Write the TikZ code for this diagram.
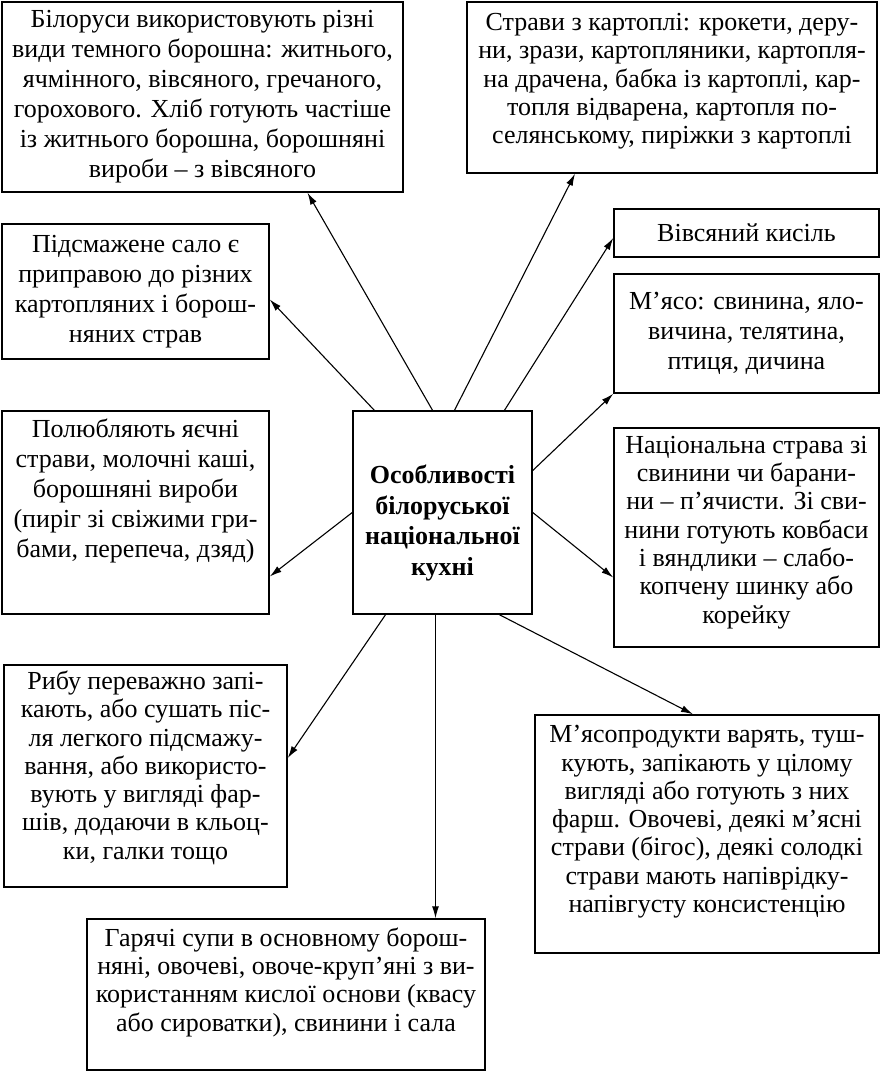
\documentclass[tikz,border=0pt]{standalone}
\usepackage{fontspec}
\setmainfont{Liberation Serif}
\usetikzlibrary{arrows.meta}

\begin{document}
\begin{tikzpicture}[
      x=1pt, y=-1pt,
      box/.style={draw, line width=1.5pt, rectangle, align=center, inner sep=3pt,
        font=\fontsize{26}{30}\selectfont},
      tight/.style={box, font=\fontsize{26}{28.3}\selectfont},
      hub/.style={box, font=\bfseries\fontsize{26}{30.5}\selectfont},
      arr/.style={line width=1.1pt, -{Latex[length=12pt, width=7pt]}},
    ]
    \useasboundingbox (0,0) rectangle (882,1074);
    \node[hub, minimum width=179pt, minimum height=203pt, text height=131pt] (hub) at (442.5,512.5)
      {Особливості\\білоруської\\національної\\кухні};
    \node[box, minimum width=401pt, minimum height=190pt] (flour) at (202.5,97)
      {Білоруси використовують різні\\види темного борошна: житнього,\\ячмінного, вівсяного, гречаного,\\горохового. Хліб готують частіше\\із житнього борошна, борошняні\\вироби -- з вівсяного};
    \node[tight, minimum width=410pt, minimum height=171pt, text depth=18pt] (potato) at (672,87.5)
      {Страви з картоплі: крокети, деру-\\ни, зрази, картопляники, картопля-\\на драчена, бабка із картоплі, кар-\\топля відварена, картопля по-\\селянському, пиріжки з картоплі};
    \node[box, minimum width=267pt, minimum height=135pt] (lard) at (135.5,291.5)
      {Підсмажене сало є\\приправою до різних\\картопляних і борош-\\няних страв};
    \node[box, minimum width=267pt, minimum height=203pt, text depth=48pt] (eggs) at (135.5,512.5)
      {Полюбляють яєчні\\страви, молочні каші,\\борошняні вироби\\(пиріг зі свіжими гри-\\бами, перепеча, дзяд)};
    \node[box, minimum width=265pt, minimum height=48pt] (oat) at (746.5,233)
      {Вівсяний кисіль};
    \node[box, minimum width=265pt, minimum height=119pt] (meat) at (746.5,333.5)
      {М’ясо: свинина, яло-\\вичина, телятина,\\птиця, дичина};
    \node[tight, minimum width=265pt, minimum height=219pt, text depth=16pt] (pork) at (746.5,537.5)
      {Національна страва зі\\свинини чи барани-\\ни -- п’ячисти. Зі сви-\\нини готують ковбаси\\і вяндлики -- слабо-\\копчену шинку або\\корейку};
    \node[tight, minimum width=344pt, minimum height=238pt, text depth=30pt] (cook) at (707,834)
      {М’ясопродукти варять, туш-\\кують, запікають у цілому\\вигляді або готують з них\\фарш. Овочеві, деякі м’ясні\\страви (бігос), деякі солодкі\\страви мають напіврідку-\\напівгусту консистенцію};
    \node[tight, minimum width=283pt, minimum height=222pt, text depth=22pt] (fish) at (145.5,776)
      {Рибу переважно запі-\\кають, або сушать піс-\\ля легкого підсмажу-\\вання, або використо-\\вують у вигляді фар-\\шів, додаючи в кльоц-\\ки, галки тощо};
    \node[tight, minimum width=398pt, minimum height=151pt, text depth=30pt] (soup) at (286,994.5)
      {Гарячі супи в основному борош-\\няні, овочеві, овоче-круп’яні з ви-\\користанням кислої основи (квасу\\або сироватки), свинини і сала};
    \draw[arr] ([xshift=-10pt]hub.north) -- ([xshift=105pt]flour.south);
    \draw[arr] ([xshift=22pt]hub.north west) -- ([yshift=-8pt]lard.east);
    \draw[arr] (hub.west) -- ([yshift=-64pt]eggs.east);
    \draw[arr] ([xshift=12pt]hub.north) -- ([xshift=-97pt]potato.south);
    \draw[arr] ([xshift=62pt]hub.north) -- ([yshift=-5pt]oat.west);
    \draw[arr] ([yshift=42pt]hub.east) -- (meat.south west);
    \draw[arr] (hub.east) -- ([yshift=-40pt]pork.west);
    \draw[arr] ([xshift=57pt]hub.south) -- ([xshift=-14pt]cook.north);
    \draw[arr] ([xshift=-57pt]hub.south) -- ([yshift=18pt]fish.east);
    \draw[arr] ([xshift=-7pt]hub.south) -- ([xshift=-7pt]hub.south |- soup.north);
\end{tikzpicture}
\end{document}
